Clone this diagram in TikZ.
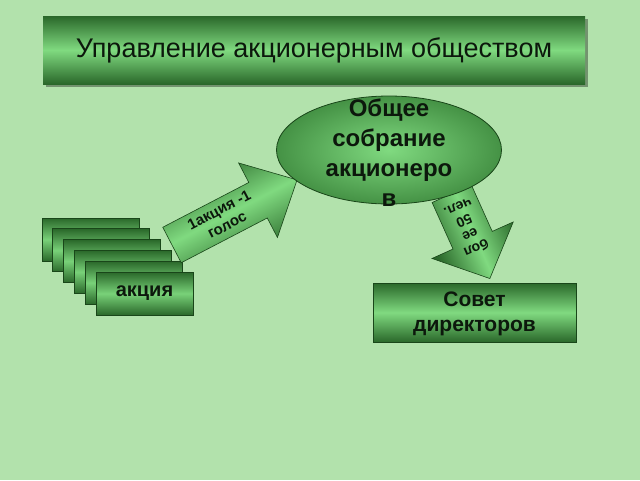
\documentclass[tikz,border=0pt]{standalone}
\usepackage{fontspec}
\setmainfont{Liberation Sans}
\usetikzlibrary{shadows,shapes.geometric}
\definecolor{bg}{RGB}{178,226,172}
\definecolor{gdark}{RGB}{42,104,42}
\definecolor{gmid}{RGB}{78,160,78}
\definecolor{glight}{RGB}{128,218,128}
\definecolor{gline}{RGB}{25,70,25}
\definecolor{ink}{RGB}{12,24,12}
\tikzset{
  titlebox/.style={rectangle, draw=none, top color=gdark, bottom color=gdark, middle color=glight,
    minimum width=542pt, minimum height=68pt, inner sep=0pt,
    drop shadow={shadow xshift=3pt, shadow yshift=-3pt, fill=black, opacity=0.35},
    font=\fontsize{27}{30}\selectfont, text=ink},
  card/.style={rectangle, draw=gline, line width=0.8pt, top color=gdark, bottom color=gdark, middle color=glight!85!gmid,
    minimum width=97pt, minimum height=43pt, inner sep=0pt,
    font=\bfseries\fontsize{20}{24}\selectfont, text=ink},
  meetell/.style={ellipse, draw=gline, line width=0.8pt, inner color=glight, outer color=gmid!75!gdark,
    minimum width=225pt, minimum height=108pt, inner sep=0pt},
  meettxt/.style={align=center, font=\bfseries\fontsize{24}{30}\selectfont, text=ink, inner sep=0pt},
  boardbox/.style={rectangle, draw=gline, line width=0.8pt, top color=gdark, bottom color=gdark, middle color=glight,
    minimum width=203pt, minimum height=59pt, inner sep=0pt},
  boardtxt/.style={align=center, inner sep=0pt, font=\bfseries\fontsize{21}{25}\selectfont, text=ink},
  arrowtxt/.style={align=center, inner sep=0pt, text=ink, transform shape},
  blockarrow/.style={draw=gline, line width=0.6pt, top color=gdark, bottom color=gdark, middle color=glight}
}
\begin{document}
\begin{tikzpicture}[x=1pt,y=-1pt]
\fill[bg] (0,0) rectangle (640,480);
\useasboundingbox (0,0) rectangle (640,480);

\node[titlebox] (title) at (314,50) {Управление акционерным обществом};

% stack of shares
\foreach \i in {0,...,4}
  \node[card] (c\i) at ({90.5+10.8*\i},{239.5+10.8*\i}) {};
\node[card] (c5) at ({90.5+54},{239.5+54}) {акция};

% arrow 1: 1 share - 1 vote
\begin{scope}[shift={(172,245)}, rotate=27.5]
  \shade[blockarrow, shading angle=27.5] (0,-20) -- (97,-20) -- (97,-42) -- (141,0) -- (97,42) -- (97,20) -- (0,20) -- cycle;
  \node[arrowtxt, font=\bfseries\fontsize{15}{17}\selectfont] (vote) at (58,-1) {1акция -1\\голос};
\end{scope}

% arrow 2: more than 50 people
\begin{scope}[shift={(455,201)}, rotate=-65.8]
  \shade[blockarrow, shading angle=-65.8] (-8,-21.5) -- (43,-21.5) -- (43,-44.5) -- (85,0) -- (43,44.5) -- (43,21.5) -- (-8,21.5) -- cycle;
  \node[arrowtxt, rotate=-90, font=\bfseries\fontsize{14}{15}\selectfont] (more) at (30,0) {бол\\ее\\50\\чел.};
\end{scope}

% general meeting
\node[meetell] (meet) at (389,150) {};
\node[meettxt] (meettext) at (389,153) {Общее\\собрание\\акционеро\\в};

% board of directors
\node[boardbox] (board) at (474.5,312.5) {};
\node[boardtxt] (boardtext) at (474.5,314) {Совет\\директоров};
\end{tikzpicture}
\end{document}
